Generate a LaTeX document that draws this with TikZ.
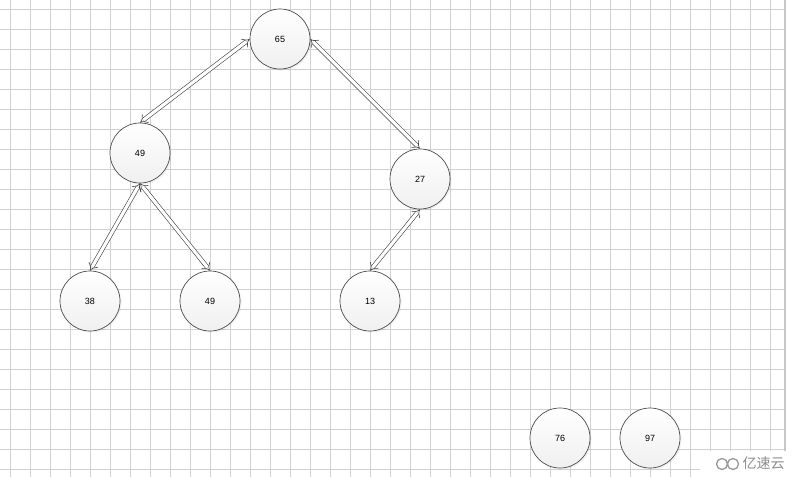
\documentclass[tikz,border=0pt]{standalone}
\usepackage{fontspec}
\setmainfont{Liberation Sans}
\newfontfamily\cjk{Noto Sans CJK SC}
\usetikzlibrary{arrows.meta,shadows}
\tikzset{
  heapnode/.style={circle, draw=black!70, line width=0.7pt, minimum size=60pt, inner sep=0pt,
    top color=white, bottom color=black!6,
    drop shadow={opacity=0.1, shadow xshift=1.5pt, shadow yshift=-1.5pt},
    font=\fontsize{9}{10}\selectfont},
  heaplink/.style={double, double distance=3.2pt, line width=0.6pt, draw=black!75,
    {Implies[scale=1.7]}-{Implies[scale=1.7]}},
}
\begin{document}
\begin{tikzpicture}[x=1pt, y=-1pt]
    \useasboundingbox (0,0) rectangle (800,477);
    \fill[white] (0,0) rectangle (800,477);
    % Grid
    \foreach \gx in {10,30,...,770} \draw[black!18, line width=0.8pt] (\gx,0) -- (\gx,477);
    \foreach \gy in {9,29,...,469} \draw[black!18, line width=0.8pt] (0,\gy) -- (784,\gy);
    \draw[black!22, line width=1.6pt] (785,0) -- (785,477);

    % Nodes
    \node[heapnode] (root) at (280,39) {65};
    \node[heapnode] (left) at (140,153) {49};
    \node[heapnode] (right) at (420,179) {27};
    \node[heapnode] (leftleft) at (90,301) {38};
    \node[heapnode] (leftright) at (210,301) {49};
    \node[heapnode] (rightleft) at (370,301) {13};
    \node[heapnode] (extraA) at (560,438) {76};
    \node[heapnode] (extraB) at (650,438) {97};

    % Links
    \draw[heaplink] (root.west) -- (left.north);
    \draw[heaplink] (root.east) -- (right.north);
    \draw[heaplink] (left.south) -- (leftleft.north);
    \draw[heaplink] (left.south) -- (leftright.north);
    \draw[heaplink] (right.south) -- (rightleft.north);

    % Watermark
    \fill[white] (700,451) rectangle (787,477);
    \draw[black!40, line width=1.3pt] (722,464) circle (5.5) (733,464) circle (5.5);
    \node[text=black!45, font=\cjk\fontsize{14}{16}\selectfont, anchor=west] (mark) at (739,463) {亿速云};
\end{tikzpicture}
\end{document}
